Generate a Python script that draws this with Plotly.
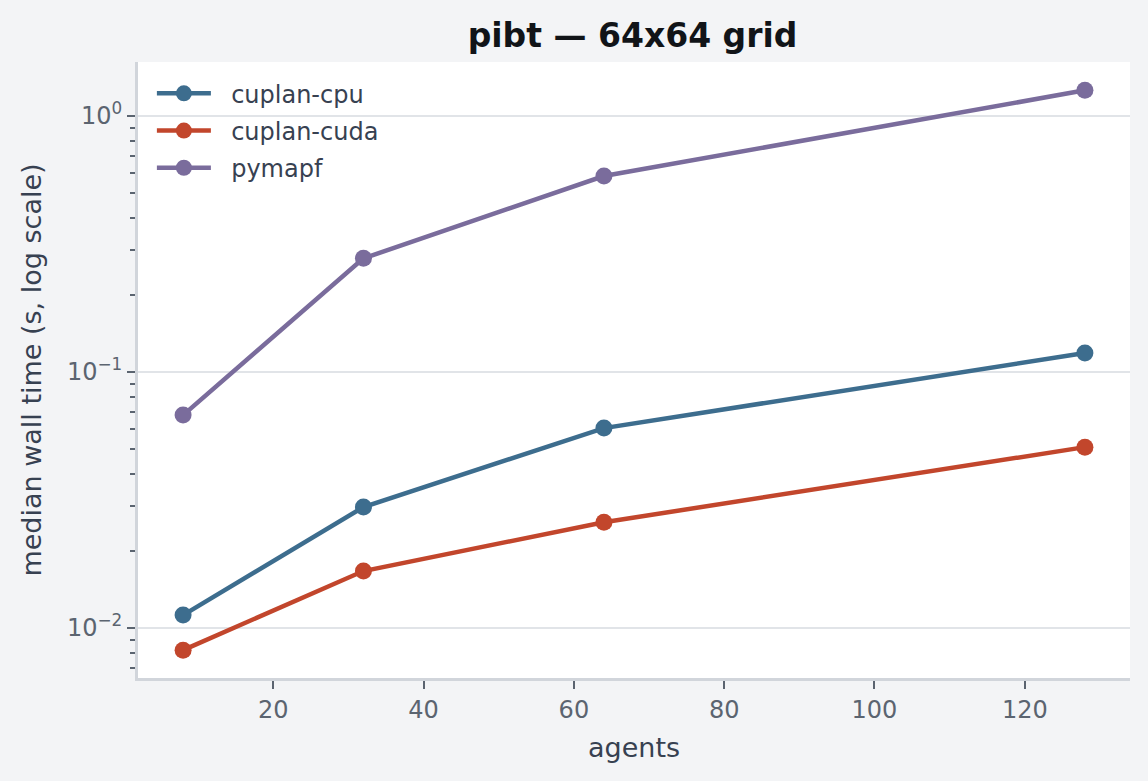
import plotly.graph_objects as go

agents = [8, 32, 64, 128]
cuplan_cpu = [0.01124, 0.0297, 0.0604, 0.1186]
cuplan_cuda = [0.0082, 0.0167, 0.0259, 0.0509]
pymapf = [0.0679, 0.278, 0.583, 1.26]

series_names = ["cuplan-cpu", "cuplan-cuda", "pymapf"]
series_values = [cuplan_cpu, cuplan_cuda, pymapf]
series_colors = ["#3d6d8e", "#c2462c", "#7a6c9c"]

x_ticks = [20, 40, 60, 80, 100, 120]
y_major = [0.01, 0.1, 1.0]
y_major_text = ["10<sup>\u22122</sup>", "10<sup>\u22121</sup>", "10<sup>0</sup>"]
y_minor = [0.007, 0.008, 0.009, 0.02, 0.03, 0.04, 0.05, 0.06, 0.07, 0.08, 0.09,
           0.2, 0.3, 0.4, 0.5, 0.6, 0.7, 0.8, 0.9]

fig = go.Figure()
for name, vals, col in zip(series_names, series_values, series_colors):
    fig.add_trace(go.Scatter(
        x=agents, y=vals, name="\u00a0\u00a0" + name, mode="lines+markers",
        line=dict(color=col, width=4.5),
        marker=dict(color=col, size=17),
        legendgroup=name,
    ))

font_family = "DejaVu Sans"
fig.update_layout(
    width=1148, height=781,
    paper_bgcolor="#f3f4f6", plot_bgcolor="#ffffff",
    margin=dict(l=138, r=18, t=62, b=103),
    font=dict(family=font_family, color="#4b5563"),
    title=dict(text="<b>pibt \u2014 64x64 grid</b>", x=0.551, xanchor="center",
               y=0.955, yanchor="middle",
               font=dict(size=33, color="#111418", family=font_family)),
    showlegend=True,
    legend=dict(x=0.014, y=0.985, xanchor="left", yanchor="top",
                bgcolor="rgba(0,0,0,0)", font=dict(size=24, color="#374151"),
                tracegroupgap=3, traceorder="grouped", itemwidth=54),
    xaxis=dict(
        range=[2, 134], tickvals=x_ticks, showgrid=False, zeroline=False,
        showline=True, linecolor="#d1d5db", linewidth=3,
        ticks="outside", ticklen=8, tickwidth=2, tickcolor="#5b6470",
        tickfont=dict(size=24, color="#5b6470"),
        title=dict(text="agents", font=dict(size=27, color="#374151"), standoff=16),
    ),
    yaxis=dict(
        type="log", range=[-2.195, 0.211], tickvals=y_major, ticktext=y_major_text,
        showgrid=True, gridcolor="#e1e4e8", gridwidth=1.5, zeroline=False,
        showline=True, linecolor="#d1d5db", linewidth=3,
        ticks="outside", ticklen=8, tickwidth=2, tickcolor="#5b6470",
        tickfont=dict(size=24, color="#5b6470"),
        minor=dict(tickvals=y_minor, ticks="outside", ticklen=5, tickwidth=1.5,
                   tickcolor="#5b6470", showgrid=False),
        title=dict(text="median wall time (s, log scale)",
                   font=dict(size=27, color="#374151"), standoff=18),
    ),
)

fig.write_html("out.html", config={"displayModeBar": False},
               post_script="document.body.style.margin='0';")
